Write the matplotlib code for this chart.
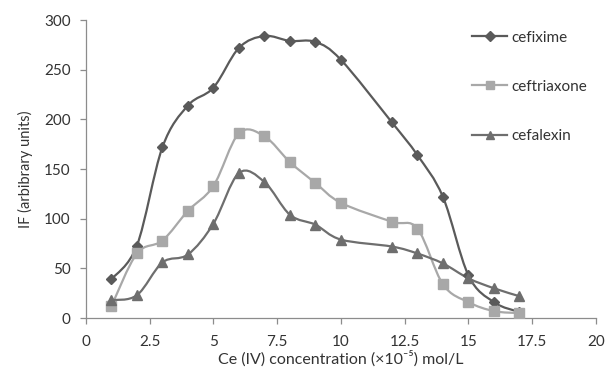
import matplotlib
matplotlib.use("Agg")
import matplotlib.pyplot as plt
from matplotlib.path import Path
from matplotlib.patches import PathPatch
from matplotlib.lines import Line2D
import numpy as np

plt.rcParams['font.family'] = ['Lato', 'DejaVu Sans']

conc = [1, 2, 3, 4, 5, 6, 7, 8, 9, 10, 12, 13, 14, 15, 16, 17]
cefixime = [39, 73, 172, 214, 232, 272, 284, 279, 278, 260, 197, 164, 122, 43, 16, 6]
ceftriaxone = [12, 65, 78, 108, 133, 186, 183, 157, 136, 116, 97, 90, 34, 16, 7, 5]
cefalexin = [18, 23, 56, 64, 95, 146, 137, 104, 94, 79, 72, 65, 55, 40, 30, 22]

series = [
    ("cefixime", cefixime, "#5a5a5a", "D", 5.5),
    ("ceftriaxone", ceftriaxone, "#a8a8a8", "s", 7),
    ("cefalexin", cefalexin, "#6e6e6e", "^", 7.5),
]

fig = plt.figure(figsize=(6.05, 3.72), dpi=100)
ax = fig.add_axes([0.142, 0.145, 0.843, 0.801])

def smooth_path(x, y):
    pts = np.column_stack([x, y]).astype(float)
    verts = [pts[0]]
    codes = [Path.MOVETO]
    n = len(pts)
    for i in range(n - 1):
        p0 = pts[i - 1] if i > 0 else pts[i]
        p1 = pts[i]
        p2 = pts[i + 1]
        p3 = pts[i + 2] if i + 2 < n else pts[i + 1]
        c1 = p1 + (p2 - p0) / 6.0
        c2 = p2 - (p3 - p1) / 6.0
        verts += [c1, c2, p2]
        codes += [Path.CURVE4] * 3
    return Path(verts, codes)

for name, vals, col, mk, ms in series:
    patch = PathPatch(smooth_path(conc, vals), facecolor='none', edgecolor=col, lw=1.6, zorder=2)
    ax.add_patch(patch)
    ax.plot(conc, vals, linestyle='none', marker=mk, color=col, markersize=ms, zorder=3)

ax.set_xlim(0, 20)
ax.set_ylim(0, 300)
ax.set_xticks([0, 2.5, 5, 7.5, 10, 12.5, 15, 17.5, 20])
ax.set_xticklabels(["0", "2.5", "5", "7.5", "10", "12.5", "15", "17.5", "20"])
ax.set_yticks([0, 50, 100, 150, 200, 250, 300])

for s in ['top', 'right']:
    ax.spines[s].set_visible(False)
for s in ['left', 'bottom']:
    ax.spines[s].set_color('#8c8c8c')
    ax.spines[s].set_linewidth(0.9)
ax.tick_params(axis='both', colors='#8c8c8c', labelcolor='#333333', labelsize=11, length=4, width=0.9)
ax.tick_params(axis='x', pad=8)
ax.tick_params(axis='y', pad=7)

ax.set_xlabel("Ce (IV) concentration (×10\u207b\u2075) mol/L", fontsize=11.5, color='#333333', labelpad=1)
ax.set_ylabel("IF (arbibrary units)", fontsize=10.5, color='#333333', labelpad=8)

handles = [Line2D([0], [0], color=c, lw=1.6, marker=m, markersize=ms * 0.85) for _, _, c, m, ms in series]
leg = ax.legend(handles, [s[0] for s in series], loc='upper left', bbox_to_anchor=(0.745, 0.985),
                frameon=False, fontsize=11, handlelength=2.3, labelspacing=2.3, handletextpad=0.3,
                borderaxespad=0)
for t in leg.get_texts():
    t.set_color('#333333')

fig.savefig("out.png", dpi=100, facecolor='white')
